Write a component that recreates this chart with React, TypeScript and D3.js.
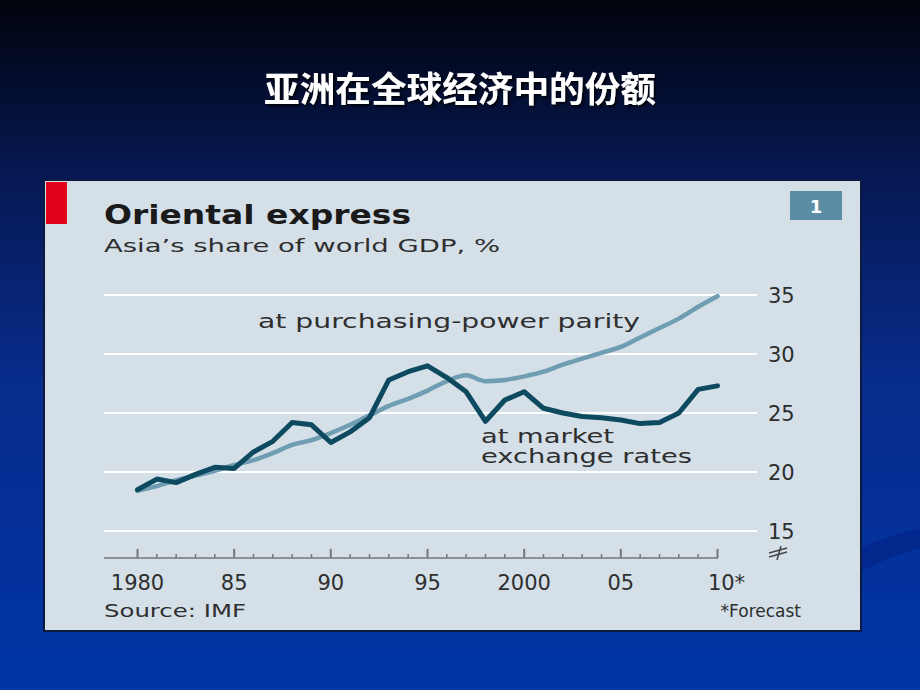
import React from "react";
import * as d3 from "d3";

const years = d3.range(1980, 2011);
const pppValues = [18.4, 18.8, 19.3, 19.7, 20.1, 20.6, 21.0, 21.6, 22.3, 22.7, 23.3, 24.0, 24.8, 25.6, 26.2, 26.9, 27.7, 28.2, 27.7, 27.8, 28.1, 28.5, 29.1, 29.6, 30.1, 30.6, 31.4, 32.2, 33.0, 34.0, 34.9];
const marketValues = [18.5, 19.4, 19.1, 19.8, 20.4, 20.3, 21.7, 22.6, 24.2, 24.0, 22.5, 23.4, 24.6, 27.8, 28.5, 29.0, 28.0, 26.8, 24.3, 26.1, 26.8, 25.4, 25.0, 24.7, 24.6, 24.4, 24.1, 24.2, 25.0, 27.0, 27.3];
const yTicks = [15, 20, 25, 30, 35];
const xMajor = [1980, 1985, 1990, 1995, 2000, 2005, 2010];
const xLabels = ["1980", "85", "90", "95", "2000", "05", "10*"];

const W = 920;
const H = 690;

export default function App() {
  const x = d3.scaleLinear().domain([1980, 2010]).range([137.5, 717.5]);
  const y = d3.scaleLinear().domain([15, 35]).range([531, 295]);
  const pppLine = d3
    .line<number>()
    .x((_, i) => x(years[i]))
    .y((v) => y(v))
    .curve(d3.curveMonotoneX);
  const mktLine = d3
    .line<number>()
    .x((_, i) => x(years[i]))
    .y((v) => y(v))
    .curve(d3.curveLinear);

  const font = "'DejaVu Sans', sans-serif";
  const textCol = "#2e2e2e";

  return (
    <svg width={W} height={H} style={{ position: "absolute", left: 0, top: 0 }}>
      <defs>
        <linearGradient id="bg" x1="0" y1="0" x2="0" y2="1">
          <stop offset="0" stopColor="#01030c" />
          <stop offset="0.25" stopColor="#061852" />
          <stop offset="0.55" stopColor="#082c8c" />
          <stop offset="1" stopColor="#0035a6" />
        </linearGradient>
        <filter id="sh" x="-10%" y="-10%" width="120%" height="130%">
          <feDropShadow dx="2" dy="2" stdDeviation="1" floodColor="#000" floodOpacity="0.8" />
        </filter>
      </defs>
      <rect x={0} y={0} width={W} height={H} fill="url(#bg)" />
      <path d="M860,548 Q890,535 920,528 L920,548 Q890,556 860,572 Z" fill="#02268a" opacity={0.8} />

      <text
        x={460}
        y={102}
        textAnchor="middle"
        fill="#fff"
        fontSize={35}
        fontWeight="bold"
        fontFamily="'Noto Sans CJK SC', sans-serif"
        filter="url(#sh)"
        textLength={392}
        lengthAdjust="spacingAndGlyphs"
      >
        亚洲在全球经济中的份额
      </text>

      {/* panel */}
      <rect x={44} y={180} width={817} height={451} fill="#d4dfe8" stroke="#0b1a3e" strokeWidth={2} />
      <rect x={46} y={182} width={21} height={42} fill="#e3001b" />

      <text x={104} y={224} fontFamily={font} fontWeight="bold" fontSize={26} fill="#1a1a1a" textLength={307} lengthAdjust="spacingAndGlyphs">
        Oriental express
      </text>
      <text x={104} y={252} fontFamily={font} fontSize={18} fill={textCol} textLength={396} lengthAdjust="spacingAndGlyphs">
        Asia’s share of world GDP, %
      </text>

      <rect x={790} y={191} width={52} height={29} fill="#5b8ea5" />
      <text x={816} y={213} textAnchor="middle" fontFamily={font} fontWeight="bold" fontSize={18} fill="#fff">
        1
      </text>

      {/* gridlines */}
      {yTicks.map((t) => (
        <g key={t}>
          <line x1={104} x2={757} y1={y(t)} y2={y(t)} stroke="#ffffff" strokeWidth={2} />
          <text x={768} y={y(t) + 8} fontFamily={font} fontSize={21} fill={textCol}>
            {t}
          </text>
        </g>
      ))}

      {/* break mark */}
      <g stroke="#444" strokeWidth={1.5}>
        <line x1={769} y1={553} x2={787} y2={548} />
        <line x1={769} y1={557} x2={787} y2={552} />
        <line x1={777} y1={560} x2={781} y2={546} />
      </g>

      {/* x axis */}
      <line x1={104} x2={718} y1={558} y2={558} stroke="#777" strokeWidth={1.5} />
      {years.map((yr) => {
        const major = xMajor.includes(yr);
        return (
          <line
            key={yr}
            x1={x(yr)}
            x2={x(yr)}
            y1={558}
            y2={major ? 549 : 554}
            stroke="#777"
            strokeWidth={major ? 2 : 1.5}
          />
        );
      })}
      {xMajor.map((yr, i) => (
        <text
          key={yr}
          x={x(yr) + (i === 6 ? 9 : 0)}
          y={590}
          textAnchor="middle"
          fontFamily={font}
          fontSize={21}
          fill={textCol}
        >
          {xLabels[i]}
        </text>
      ))}

      {/* lines */}
      <path d={pppLine(pppValues) || ""} fill="none" stroke="#6f9db1" strokeWidth={4.5} strokeLinejoin="round" strokeLinecap="round" />
      <path d={mktLine(marketValues) || ""} fill="none" stroke="#0d4a5f" strokeWidth={5} strokeLinejoin="round" strokeLinecap="round" />

      {/* annotations */}
      <text x={258} y={328} fontFamily={font} fontSize={19} fill={textCol} textLength={382} lengthAdjust="spacingAndGlyphs">
        at purchasing-power parity
      </text>
      <text x={481} y={443} fontFamily={font} fontSize={19} fill={textCol} textLength={133} lengthAdjust="spacingAndGlyphs">
        at market
      </text>
      <text x={481} y={463} fontFamily={font} fontSize={19} fill={textCol} textLength={211} lengthAdjust="spacingAndGlyphs">
        exchange rates
      </text>

      <text x={104} y={617} fontFamily={font} fontSize={17} fill={textCol} textLength={142} lengthAdjust="spacingAndGlyphs">
        Source: IMF
      </text>
      <text x={801} y={617} textAnchor="end" fontFamily={font} fontSize={17} fill={textCol}>
        *Forecast
      </text>
    </svg>
  );
}
